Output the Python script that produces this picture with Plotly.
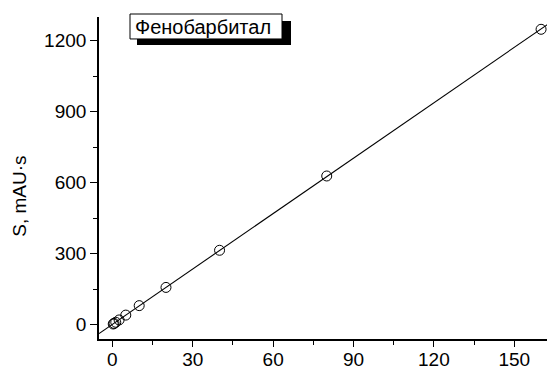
import numpy as np
import plotly.graph_objects as go

# Data
conc = [0.3125, 0.625, 1.25, 2.5, 5, 10, 20, 40, 80, 160]
area = [2.4, 4.9, 9.8, 19.5, 40, 80, 157, 314, 628, 1248]
x_ticks = [0, 30, 60, 90, 120, 150]
y_ticks = [0, 300, 600, 900, 1200]
legend_label = "Фенобарбитал"
y_title = "S, mAU·s"

# page body has an 8px margin; figure sized to fill the rest of the window
OFF = 8
W, H = 555 - OFF, 366 - OFF
PL, PR, PT, PB = 99, 555, 17, 339.5   # plot area edges in window pixels
ML, MR, MT, MB = PL - OFF, 0, PT - OFF, H - (PB - OFF)
xr = [-5, 165.2]
yr = [-61, 1300]

slope, intercept = np.polyfit(conc, area, 1)
fit_x = np.array(xr)
fit_y = slope * fit_x + intercept

fig = go.Figure()
fig.add_trace(go.Scatter(x=fit_x, y=fit_y, mode="lines",
                         line=dict(color="black", width=1.1), showlegend=False, hoverinfo="skip"))
fig.add_trace(go.Scatter(x=conc, y=area, mode="markers",
                         marker=dict(symbol="circle-open", size=10, color="black",
                                     line=dict(width=1, color="black")),
                         showlegend=False))

FAM = "Liberation Sans, Arial, sans-serif"
font = dict(family=FAM, size=19, color="black")

axis_common = dict(showgrid=False, zeroline=False, showline=True, linecolor="black",
                   linewidth=1.6, ticks="outside", tickwidth=1.3, automargin=False,
                   tickcolor="black", tickfont=font)

fig.update_xaxes(range=xr, tickvals=x_ticks, ticklen=6, ticklabelstandoff=-4,
                 minor=dict(dtick=15, ticks="outside", ticklen=4, tickwidth=1.3, tickcolor="black"),
                 **axis_common)
fig.update_yaxes(range=yr, tickvals=y_ticks, ticklen=7,
                 minor=dict(dtick=150, ticks="outside", ticklen=4, tickwidth=1.3, tickcolor="black"),
                 **axis_common)

def px_x(p):
    return (p - PL) / (PR - PL)

def px_y(p):
    return (PB - p) / (PB - PT)

# y-axis title
fig.add_annotation(xref="paper", yref="paper", x=px_x(20), y=px_y(197),
                   xanchor="center", yanchor="middle", text=y_title, textangle=-90,
                   showarrow=False, font=font)

# legend box with shadow
fig.add_shape(type="rect", xref="paper", yref="paper",
              x0=px_x(137), x1=px_x(291), y0=px_y(45), y1=px_y(21),
              fillcolor="black", line=dict(width=0), layer="above")
fig.add_shape(type="rect", xref="paper", yref="paper",
              x0=px_x(130), x1=px_x(282), y0=px_y(39), y1=px_y(14),
              fillcolor="white", line=dict(color="black", width=1), layer="above")
fig.add_annotation(xref="paper", yref="paper", x=px_x(133), y=px_y(27),
                   xanchor="left", yanchor="middle", text=legend_label,
                   showarrow=False, font=dict(family=FAM, size=20, color="black"))

fig.update_layout(width=W, height=H, margin=dict(l=ML, r=MR, t=MT, b=MB),
                  plot_bgcolor="white", paper_bgcolor="white")

fig.write_html("out.html")
